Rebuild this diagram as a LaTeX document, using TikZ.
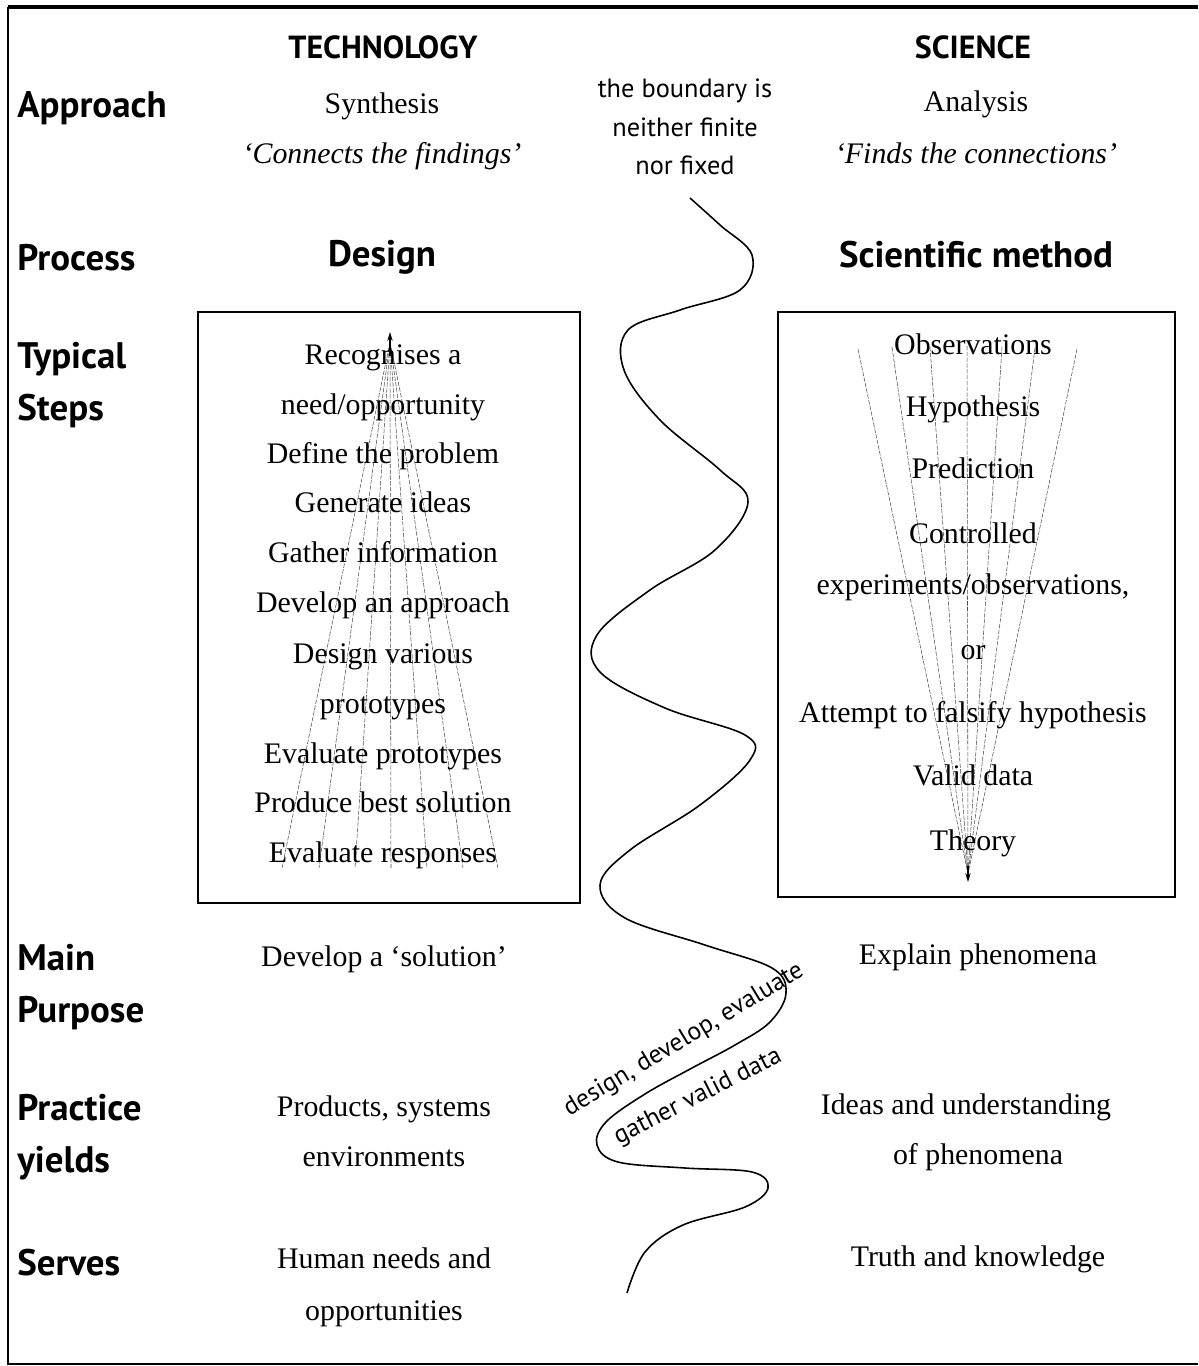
\documentclass[tikz,border=0pt]{standalone}
\usepackage{fontspec}
\setmainfont{Liberation Serif}
\newfontfamily\headfont{PT Sans}
\usetikzlibrary{arrows.meta}
\begin{document}
\begin{tikzpicture}[x=0.02cm,y=-0.02cm,
  rowlab/.style={anchor=west,font=\headfont\bfseries\fontsize{21}{29.5}\selectfont,align=left,inner sep=0pt},
  colhead/.style={font=\headfont\bfseries\fontsize{18.2}{20}\selectfont,inner sep=0pt},
  proc/.style={font=\headfont\bfseries\fontsize{21}{24}\selectfont,inner sep=0pt},
  ln/.style={font=\fontsize{17}{20}\selectfont,inner sep=0pt,text height=11pt,text depth=3.5pt},
  lnit/.style={ln,font=\itshape\fontsize{17}{20}\selectfont},
  boxframe/.style={draw,line width=1.1pt},
  fan/.style={line width=0.3pt,dash pattern=on 2.5pt off 0.8pt,black!70},
  wave/.style={line width=0.9pt},
  note/.style={font=\headfont\fontsize{15}{21.8}\selectfont,align=center,inner sep=0pt},
  sidetext/.style={font=\headfont\fontsize{14.5}{18}\selectfont,inner sep=0pt}
]
\useasboundingbox (0,0) rectangle (1198,1366);
\fill[white] (0,0) rectangle (1198,1366);
% outer frame
\draw[line width=2.2pt] (1198,7) -- (8,7);
\draw[line width=1.2pt] (8,7) -- (8,1364) -- (1198,1364);

% column headings
\node[colhead] (tech) at (383,47) {TECHNOLOGY};
\node[colhead] (sci) at (973,47) {SCIENCE};

% row labels
\node[rowlab] (rApproach) at (17,108) {Approach};
\node[rowlab] (rProcess) at (17,258) {Process};
\node[rowlab] (rSteps) at (17,385) {Typical\\Steps};
\node[rowlab] (rPurpose) at (17,987) {Main\\Purpose};
\node[rowlab] (rYields) at (17,1137) {Practice\\yields};
\node[rowlab] (rServes) at (17,1263) {Serves};

% approach
\node[ln] (synth) at (382,107) {Synthesis};
\node[lnit] (connects) at (382,157) {‘Connects the findings’};
\node[ln] (anal) at (976,105) {Analysis};
\node[lnit] (finds) at (976,157) {‘Finds the connections’};

% boundary note
\node[note] (boundary) at (685,127) {the boundary is\\neither finite\\nor fixed};

% process
\node[proc] (design) at (382,257) {Design};
\node[proc] (scimeth) at (976,255) {Scientific method};

% boxes
\draw[boxframe] (198,312) rectangle (580,903);
\draw[boxframe] (778,312) rectangle (1175,897);

% left fan
\coordinate (lapex) at (390,342);
\foreach \bx in {282,319,355,391,427,463,498}
  \draw[fan] (lapex) -- (\bx,868);
\draw[line width=0.9pt,-{Stealth[length=5pt,width=3pt]}] (390,356) -- (390,332);

% right fan
\coordinate (rapex) at (968,874);
\foreach \tx/\ty in {858/349,892/347,930/347,967/346,1002/347,1035/348,1077/349}
  \draw[fan] (\tx,\ty) -- (rapex);
\draw[line width=0.9pt,-{Stealth[length=5pt,width=3pt]}] (968,866) -- (968,882);

% left box text
\node[ln] (l1) at (383,358) {Recognises a};
\node[ln] (l2) at (383,408) {need/opportunity};
\node[ln] (l3) at (383,457) {Define the problem};
\node[ln] (l4) at (383,506) {Generate ideas};
\node[ln] (l5) at (383,556) {Gather information};
\node[ln] (l6) at (383,606) {Develop an approach};
\node[ln] (l7) at (383,657) {Design various};
\node[ln] (l8) at (383,707) {prototypes};
\node[ln] (l9) at (383,757) {Evaluate prototypes};
\node[ln] (l10) at (383,806) {Produce best solution};
\node[ln] (l11) at (383,856) {Evaluate responses};

% right box text
\node[ln] (r1) at (973,348) {Observations};
\node[ln] (r2) at (973,410) {Hypothesis};
\node[ln] (r3) at (973,472) {Prediction};
\node[ln] (r4) at (973,537) {Controlled};
\node[ln] (r5) at (973,588) {experiments/observations,};
\node[ln] (r6) at (973,653) {or};
\node[ln] (r7) at (973,716) {Attempt to falsify hypothesis};
\node[ln] (r8) at (973,779) {Valid data};
\node[ln] (r9) at (973,844) {Theory};

% main purpose
\node[ln] (devsol) at (384,960) {Develop a ‘solution’};
\node[ln] (explain) at (978,958) {Explain phenomena};

% practice yields
\node[ln] (prod1) at (384,1110) {Products, systems};
\node[ln] (prod2) at (384,1160) {environments};
\node[ln] (ideas1) at (966,1108) {Ideas and understanding};
\node[ln] (ideas2) at (978,1158) {of phenomena};

% serves
\node[ln] (human1) at (384,1262) {Human needs and};
\node[ln] (human2) at (384,1314) {opportunities};
\node[ln] (truth) at (978,1260) {Truth and knowledge};

% boundary wave
\draw[wave] plot[smooth,tension=0.6] coordinates {
 (690,198) (720,225) (752,255) (740,290) (680,310) (628,330) (624,370)
 (660,420) (720,470) (748,502) (715,550) (650,590) (597,635) (600,672)
 (665,708) (745,735) (750,760) (700,805) (630,850) (600,885) (625,918)
 (705,945) (772,968) (786,993) (770,1022) (735,1045) (692,1068) (645,1094)
 (606,1122) (597,1145) (618,1162) (685,1168) (752,1172) (768,1188) (745,1207) (683,1225)
 (645,1252) (627,1293)};

% wave labels
\node[sidetext,rotate=31] (ddd) at (684,1040) {design, develop, evaluate};
\node[sidetext,rotate=27] (gvd) at (698,1097) {gather valid data};
\end{tikzpicture}
\end{document}
